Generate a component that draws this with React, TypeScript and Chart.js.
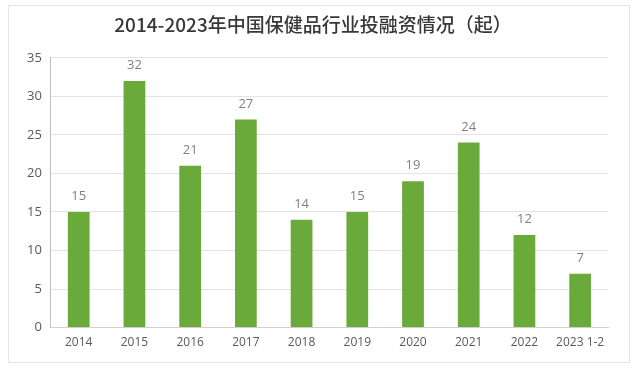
import React, { useEffect, useRef } from "react";
import { Chart, registerables } from "chart.js";

Chart.register(...registerables);

const categories = ["2014", "2015", "2016", "2017", "2018", "2019", "2020", "2021", "2022", "2023 1-2"];
const values = [15, 32, 21, 27, 14, 15, 19, 24, 12, 7];
const yTicks = [0, 5, 10, 15, 20, 25, 30, 35];
const titleText = "2014-2023年中国保健品行业投融资情况（起）";

const valueLabels = {
  id: "valueLabels",
  afterDatasetsDraw(chart: any) {
    const ctx = chart.ctx;
    const meta = chart.getDatasetMeta(0);
    ctx.save();
    ctx.font = '13px "Open Sans", "Noto Sans", sans-serif';
    ctx.fillStyle = "#808080";
    ctx.textAlign = "center";
    ctx.textBaseline = "bottom";
    meta.data.forEach((bar: any, i: number) => {
      ctx.fillText(String(values[i]), bar.x, bar.y - 9);
    });
    ctx.restore();
  },
};

export default function App() {
  const ref = useRef<HTMLCanvasElement | null>(null);
  useEffect(() => {
    document.body.style.margin = "0";
    const chart = new Chart(ref.current as HTMLCanvasElement, {
      type: "bar",
      data: {
        labels: categories,
        datasets: [
          {
            data: values,
            backgroundColor: "#6aaa3a",
            barPercentage: 0.78,
            categoryPercentage: 0.5,
          },
        ],
      },
      options: {
        animation: false,
        responsive: false,
        layout: { padding: { left: 18, right: 32, top: 4, bottom: 14 } },
        plugins: {
          legend: { display: false },
          tooltip: { enabled: false },
          title: {
            display: true,
            text: titleText,
            color: "#383838",
            font: { family: '"Noto Sans CJK SC", sans-serif', size: 19, weight: "500" },
            padding: { top: 9, bottom: 22 },
          },
        },
        scales: {
          x: {
            grid: { display: false, drawTicks: false },
            border: { display: true, color: "#d0d0d0" },
            ticks: {
              color: "#595959",
              font: { family: '"Open Sans", sans-serif', size: 12 },
              padding: 8,
              maxRotation: 0,
              autoSkip: false,
            },
          },
          y: {
            min: 0,
            max: 35,
            afterBuildTicks: (axis: any) => {
              axis.ticks = yTicks.map((v) => ({ value: v }));
            },
            grid: { color: "#e3e3e3", drawTicks: false },
            border: { display: true, color: "#bfbfbf" },
            ticks: {
              color: "#595959",
              font: { family: '"Open Sans", sans-serif', size: 13 },
              padding: 9,
            },
          },
        },
      },
      plugins: [valueLabels],
    });
    return () => chart.destroy();
  }, []);
  return (
    <div style={{ position: "relative", width: 640, height: 372, background: "#fff" }}>
      <div
        style={{
          position: "absolute",
          left: 8,
          top: 5,
          width: 622,
          height: 358,
          border: "1px solid #e6e6e6",
          boxSizing: "border-box",
          pointerEvents: "none",
        }}
      />
      <canvas ref={ref} width={640} height={372} style={{ position: "absolute", left: 0, top: 0 }} />
    </div>
  );
}
